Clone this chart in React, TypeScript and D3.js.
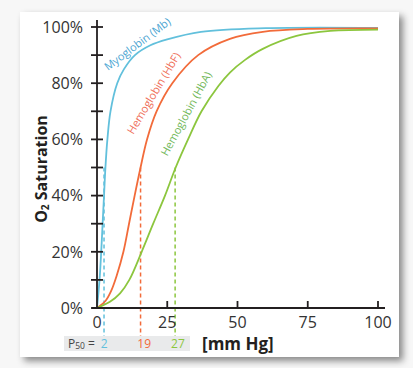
import * as d3 from 'd3';

// O2 dissociation curves (mm Hg -> % saturation)
const mbPressure = [0, 0.9, 1.5, 2, 2.5, 3, 3.7, 4.8, 7.2, 9.6, 13.5, 19, 25, 37, 60, 100];
const mbSat = [0, 10, 20, 30, 40, 50, 60, 70, 80, 85, 90, 93.5, 95.6, 98.3, 99.6, 99.7];

const hbfPressure = [0, 3, 5, 7, 9.4, 11.4, 13.4, 15.5, 17.8, 21.2, 26.8, 36, 47.3, 59, 75, 100];
const hbfSat = [0, 2.5, 6, 11.5, 20, 30, 40, 50, 60, 70, 80, 90, 95.8, 98.3, 99.3, 99.5];

const hbaPressure = [0, 4.6, 8.2, 11.5, 15.9, 20, 24.2, 28, 32.4, 37.2, 43.2, 47.3, 52.7, 59, 71, 83, 100];
const hbaSat = [0, 2.2, 5.2, 10, 20, 30, 40, 50, 60, 70, 79, 83.8, 88.3, 92.2, 96.8, 98.6, 99.1];

const p50Values = [2.5, 15.5, 27.8];
const p50Labels = ['2', '19', '27'];
const p50LabelAt = [2.6, 16.8, 28.8];

const seriesNames = ['Myoglobin (Mb)', 'Hemoglobin (HbF)', 'Hemoglobin (HbA)'];
const labelAt = [[3.9, 84.3], [12.9, 61.6], [25, 53.8]];
const labelAngle = [-37, -59, -61.5];

const xTicks = [0, 25, 50, 75, 100];
const yTicks = [0, 10, 20, 30, 40, 50, 60, 70, 80, 90, 100];
const yLabels = [0, 20, 40, 60, 80, 100];

const lineColors = ['#62c0dc', '#f26b3a', '#8cc63e'];
const textColors = ['#4aa5d2', '#ef6e58', '#72b85a'];

export default function App() {
  const x = d3.scaleLinear().domain([0, 100]).range([97, 378]);
  const y = d3.scaleLinear().domain([0, 100]).range([308, 27]);

  const series = [
    d3.zip(mbPressure, mbSat),
    d3.zip(hbfPressure, hbfSat),
    d3.zip(hbaPressure, hbaSat),
  ];
  const line = d3.line<number[]>()
    .x((d) => x(d[0]))
    .y((d) => y(d[1]))
    .curve(d3.curveCatmullRom.alpha(0.5));

  const font = '"Open Sans", "DejaVu Sans", sans-serif';

  return (
    <svg width={413} height={368} style={{ position: 'absolute', left: 0, top: 0 }} fontFamily={font}>
      <defs>
        <filter id="shadow" x="-10%" y="-10%" width="130%" height="130%">
          <feDropShadow dx="4" dy="4" stdDeviation="3.5" floodColor="#000" floodOpacity="0.45" />
        </filter>
      </defs>
      <rect x={0} y={0} width={413} height={368} fill="#f7f7f7" />
      <rect x={20} y={12} width={379} height={345} fill="#fff" filter="url(#shadow)" />

      {/* P50 box */}
      <rect x={64} y={336} width={126} height={15} fill="#e9eaeb" />
      <text x={68} y={347.5} fontSize={12} fill="#444">
        P<tspan fontSize={8.5} dy={1}>50</tspan><tspan dy={-1}> = </tspan>
      </text>
      {p50Labels.map((l, i) => (
        <text key={l} x={x(p50LabelAt[i])} y={347.5} fontSize={12} fill={lineColors[i]} textAnchor="middle">{l}</text>
      ))}

      {/* dashed P50 markers */}
      {p50Values.map((v, i) => (
        <line key={v} x1={x(v)} x2={x(v)} y1={y(50)} y2={336}
          stroke={lineColors[i]} strokeWidth={1.5} strokeDasharray="4,3" />
      ))}

      {/* curves */}
      {series.map((s, i) => (
        <path key={seriesNames[i]} d={line(s) ?? ''} fill="none" stroke={lineColors[i]} strokeWidth={1.8} />
      ))}

      {/* curve labels */}
      {seriesNames.map((n, i) => (
        <text key={n} fontSize={11} fill={textColors[i]}
          transform={`translate(${x(labelAt[i][0])},${y(labelAt[i][1])}) rotate(${labelAngle[i]})`}>{n}</text>
      ))}

      {/* axes */}
      <line x1={97} x2={97} y1={20} y2={309} stroke="#231f20" strokeWidth={1.8} />
      <line x1={92} x2={385} y1={308} y2={308} stroke="#231f20" strokeWidth={1.8} />
      {yTicks.map((t) => (
        <line key={t} x1={91} x2={103} y1={y(t)} y2={y(t)} stroke="#231f20" strokeWidth={1.8} />
      ))}
      {xTicks.filter((t) => t > 0).map((t) => (
        <line key={t} x1={x(t)} x2={x(t)} y1={301} y2={308} stroke="#231f20" strokeWidth={1.8} />
      ))}
      {yLabels.map((t) => (
        <text key={t} x={83} y={y(t)} dy="0.36em" textAnchor="end" fontSize={16} fill="#333">{`${t}%`}</text>
      ))}
      {xTicks.map((t) => (
        <text key={t} x={x(t)} y={328} textAnchor="middle" fontSize={16} fill="#333">{t}</text>
      ))}

      <text transform="translate(47,169) rotate(-90)" textAnchor="middle" fontSize={16} fontWeight="bold" fill="#231f20">
        O<tspan fontSize={10} dy={2}>2</tspan><tspan dy={-2}> Saturation</tspan>
      </text>
      <text x={202} y={350} fontSize={17} fontWeight="bold" fill="#231f20">[mm Hg]</text>
    </svg>
  );
}
